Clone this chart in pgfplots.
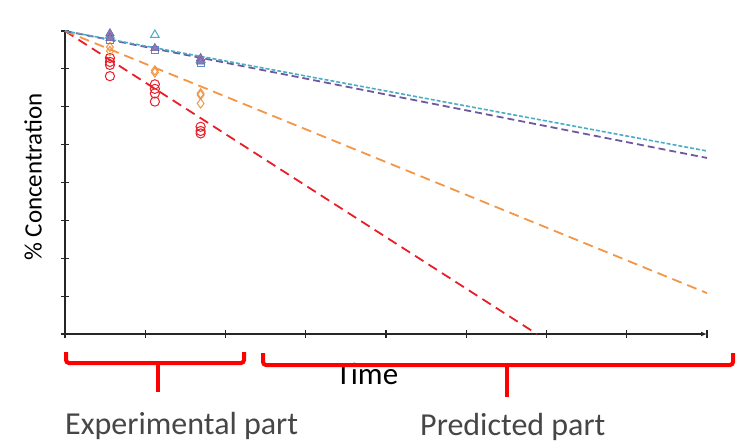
\documentclass[border=0pt]{standalone}
\usepackage{pgfplots}
\pgfplotsset{compat=1.18}
\usepackage{fontspec}
\setmainfont{Carlito}
\usetikzlibrary{arrows.meta}
\definecolor{cred}{RGB}{232,30,40}
\definecolor{corange}{RGB}{243,150,70}
\definecolor{cpurple}{RGB}{112,88,160}
\definecolor{ccyan}{RGB}{75,172,198}
\definecolor{cblue}{RGB}{90,140,200}
\definecolor{txtgray}{RGB}{70,70,70}
\begin{document}
\begin{tikzpicture}[x=1pt,y=1pt]
\path[use as bounding box] (0,0) rectangle (744,445);
\begin{axis}[
  at={(65pt,111pt)}, anchor=south west,
  scale only axis, width=642pt, height=303pt,
  xmin=0, xmax=8, ymin=0, ymax=100,
  axis lines=left,
  axis line style={line width=1.4pt, black!85},
  x axis line style={-{Latex[length=6pt,width=5pt]}},
  y axis line style={-},
  xtick={0,1,...,8}, ytick={0,12.5,...,100},
  xticklabels={}, yticklabels={},
  tick align=center, major tick length=8pt,
  tick style={line width=1.1pt, black!85},
  clip=false,
]
% trend lines
\addplot[cred, line width=1.8pt, dash pattern=on 10pt off 6pt] coordinates {(0,100) (5.88,0)};
\addplot[corange, line width=1.8pt, dash pattern=on 10pt off 6pt] coordinates {(0,100) (8,13.5)};
\addplot[cpurple, line width=1.8pt, dash pattern=on 7pt off 4pt] coordinates {(0,100) (8,58.1)};
\addplot[ccyan, line width=1.6pt, dash pattern=on 4pt off 2pt] coordinates {(0,100) (8,60.4)};
% data points
\addplot[only marks, mark=o, mark size=4.6pt, cred, line width=1pt] coordinates {
 (0.56,91.1) (0.56,89.8) (0.56,88.8) (0.56,85.1)
 (1.12,82.4) (1.12,80.9) (1.12,79.4) (1.12,76.7)
 (1.69,68.4) (1.69,67.0) (1.69,66.2)};
\addplot[only marks, mark=diamond, mark size=4.6pt, corange, line width=1pt] coordinates {
 (0.56,94.7) (0.56,93.4)
 (1.12,87.0) (1.12,86.3)
 (1.69,79.4) (1.69,78.9) (1.69,76.1)};
\addplot[only marks, mark=square, mark size=3.6pt, cblue, line width=1pt] coordinates {
 (0.56,97.0) (1.12,93.8) (1.69,89.5)};
\addplot[only marks, mark=triangle, mark size=5pt, ccyan, line width=1pt] coordinates {
 (0.56,98.5) (1.12,98.7) (1.69,90.5)};
\addplot[only marks, mark=triangle*, mark size=5pt, cpurple, mark options={fill=cpurple!80}] coordinates {
 (0.56,99.2) (0.56,97.6) (1.12,94.3) (1.69,91.0) (1.69,89.9)};
\end{axis}
% labels
\node[rotate=90, font=\fontsize{25}{30}\selectfont, text=black] at (33,268) {\% Concentration};
\node[font=\fontsize{31}{36}\selectfont, text=black, anchor=base] at (367,61) {Time};
% brackets
\draw[red, line width=4pt, rounded corners=3pt] (66,93) -- (66,82) -- (244,82) -- (244,93);
\draw[red, line width=4pt] (158,82) -- (158,53);
\draw[red, line width=4pt, rounded corners=3pt] (263,92) -- (263,80) -- (733,80) -- (733,92);
\draw[red, line width=4pt] (507,80) -- (507,48);
\node[font=\fontsize{32}{38}\selectfont, text=txtgray, anchor=base west, inner sep=0pt] at (65,11) {Experimental part};
\node[font=\fontsize{32}{38}\selectfont, text=txtgray, anchor=base west, inner sep=0pt] at (420,10) {Predicted part};
\end{tikzpicture}
\end{document}
